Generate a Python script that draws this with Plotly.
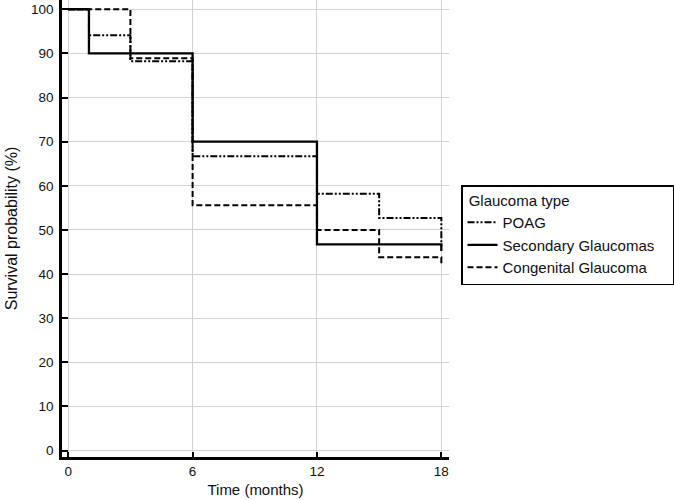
import plotly.graph_objects as go

# Kaplan-Meier style survival data (months, %)
poag_time = [0, 1, 3, 6, 12, 15, 18]
poag_surv = [100, 94.1, 88.2, 66.7, 58.2, 52.7, 46.3]

sec_time = [0, 1, 6, 12, 18]
sec_surv = [100, 90, 70, 46.7, 45.2]

cong_time = [0, 3, 6, 12, 15, 18]
cong_surv = [100, 88.9, 55.6, 50.0, 43.8, 41.8]

series_names = ["POAG", "Secondary Glaucomas", "Congenital Glaucoma"]

x_ticks = [0, 6, 12, 18]
y_ticks = list(range(0, 101, 10))

FONT = "Liberation Sans, Arial, sans-serif"
PAD = "\u00a0\u00a0\u00a0"

fig = go.Figure()
fig.add_trace(go.Scatter(x=poag_time, y=poag_surv, mode="lines", line_shape="hv",
                         name=series_names[0],
                         line=dict(color="black", width=2, dash="7px,2px,2px,2px,2px,2px")))
fig.add_trace(go.Scatter(x=sec_time, y=sec_surv, mode="lines", line_shape="hv",
                         name=series_names[1] + PAD,
                         line=dict(color="black", width=2.3)))
fig.add_trace(go.Scatter(x=cong_time, y=cong_surv, mode="lines", line_shape="hv",
                         name=series_names[2],
                         line=dict(color="black", width=2, dash="6px,3px")))

fig.update_layout(
    width=674, height=500,
    margin=dict(l=62, r=224, t=0, b=43),
    plot_bgcolor="white", paper_bgcolor="white",
    font=dict(family=FONT, size=13.5, color="#111"),
    showlegend=True,
    legend=dict(
        title=dict(text="\u00a0Glaucoma type", font=dict(size=15)),
        x=1.031, y=0.595, xanchor="left", yanchor="top",
        bordercolor="black", borderwidth=1.5, bgcolor="white",
        font=dict(size=15), tracegroupgap=0, itemwidth=30,
    ),
    xaxis=dict(
        range=[-0.3, 18.37], tickvals=x_ticks, ticktext=[str(v) for v in x_ticks],
        showgrid=True, gridcolor="#d3d3d3", gridwidth=1,
        showline=True, linecolor="black", linewidth=2.5,
        ticks="inside", ticklen=5, tickwidth=1.5, tickcolor="black",
        zeroline=False,
        title=dict(text="Time (months)", font=dict(size=15), standoff=7),
    ),
    yaxis=dict(
        range=[-1.47, 102.1], tickvals=y_ticks,
        showgrid=True, gridcolor="#d3d3d3", gridwidth=1,
        showline=True, linecolor="black", linewidth=2.5,
        ticks="inside", ticklen=6, tickwidth=1.5, tickcolor="black",
        zeroline=False, ticklabelstandoff=3,
        title=dict(text="Survival probability (%)", font=dict(size=16), standoff=10),
    ),
)

fig.write_html("out.html")
